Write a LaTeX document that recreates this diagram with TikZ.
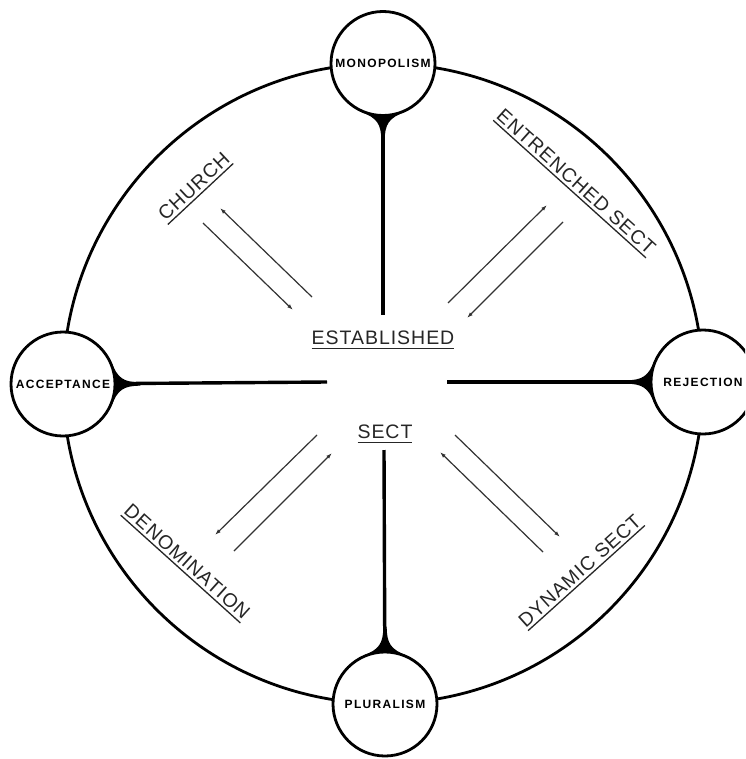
\documentclass[tikz,border=0pt]{standalone}
\usepackage{fontspec}
\setmainfont{Liberation Sans}
\newfontfamily\labfont[LetterSpace=5]{Liberation Sans}
\newfontfamily\circfont[LetterSpace=11]{Liberation Sans}
\usetikzlibrary{arrows.meta,backgrounds}
\newcommand\ulin[1]{\setbox0\hbox{#1}\rlap{\rule[-4pt]{\wd0}{1.3pt}}\box0}
\begin{document}
\begin{tikzpicture}[x=1pt,y=-1pt,
  rim/.style={line width=2.8pt},
  pole/.style={circle, draw, line width=2.8pt, fill=white, minimum size=104pt, inner sep=0pt,
    font=\circfont\bfseries\fontsize{12}{14}\selectfont},
  spoke/.style={line width=3.4pt},
  flow/.style={line width=1.2pt, black!80, -{Latex[length=6pt,width=4pt]}},
  lab/.style={font=\labfont\fontsize{19.5}{22}\selectfont, text=black!85, inner sep=0pt},
  flare/.pic={\fill (-5,-22) .. controls (1,-6) and (7,-1.7) .. (24,-1.7) -- (24,1.7) .. controls (7,1.7) and (1,6) .. (-5,22) -- cycle;}
]
\useasboundingbox (0,0) rectangle (745,759);
\clip (0,0) rectangle (745,759);

% poles
\node[pole] (mono) at (383,63.5) {MONOPOLISM};
\node[pole] (acc) at (63,384) {ACCEPTANCE};
\node[pole] (rej) at (703,382) {REJECTION};
\node[pole] (plu) at (385,704) {PLURALISM};

% spoke ends
\coordinate (tEnd) at (383,315);
\coordinate (lEnd) at (327,382);
\coordinate (rEnd) at (447,382);
\coordinate (bEnd) at (384,450);

\begin{scope}[on background layer]
  \fill[white] (0,0) rectangle (745,759);
  \draw[rim] (383,383.5) circle[radius=320];
  \draw[spoke] (mono) -- (tEnd);
  \draw[spoke] (acc) -- (lEnd);
  \draw[spoke] (rej) -- (rEnd);
  \draw[spoke] (plu) -- (bEnd);
  \pic[rotate=-90] at (mono.south) {flare};
  \pic[rotate=0] at (acc.east) {flare};
  \pic[rotate=180] at (rej.west) {flare};
  \pic[rotate=90] at (plu.north) {flare};
\end{scope}

% centre labels
\node[lab] (est) at (383,340) {\ulin{ESTABLISHED}};
\node[lab] (sect) at (385,434) {\ulin{SECT}};

% quadrant labels
\node[lab, rotate=43] (church) at (195,188) {\ulin{CHURCH}};
\node[lab, rotate=-42] (entr) at (575,183) {\ulin{ENTRENCHED SECT}};
\node[lab, rotate=-42] (denom) at (186,563) {\ulin{DENOMINATION}};
\node[lab, rotate=42] (dyn) at (581,572) {\ulin{DYNAMIC SECT}};

% flow arrows
\coordinate (c1a) at (312,297); \coordinate (c1b) at (220,208);
\coordinate (c2a) at (203,223); \coordinate (c2b) at (293,310);
\coordinate (e1a) at (448,303); \coordinate (e1b) at (547,205);
\coordinate (e2a) at (563,222); \coordinate (e2b) at (467,318);
\coordinate (d1a) at (317,435); \coordinate (d1b) at (215,535);
\coordinate (d2a) at (234,551); \coordinate (d2b) at (332,453);
\coordinate (y1a) at (543,552); \coordinate (y1b) at (440,452);
\coordinate (y2a) at (455,435); \coordinate (y2b) at (560,537);

\draw[flow] (c1a) -- (c1b);
\draw[flow] (c2a) -- (c2b);
\draw[flow] (e1a) -- (e1b);
\draw[flow] (e2a) -- (e2b);
\draw[flow] (d1a) -- (d1b);
\draw[flow] (d2a) -- (d2b);
\draw[flow] (y1a) -- (y1b);
\draw[flow] (y2a) -- (y2b);
\end{tikzpicture}
\end{document}
